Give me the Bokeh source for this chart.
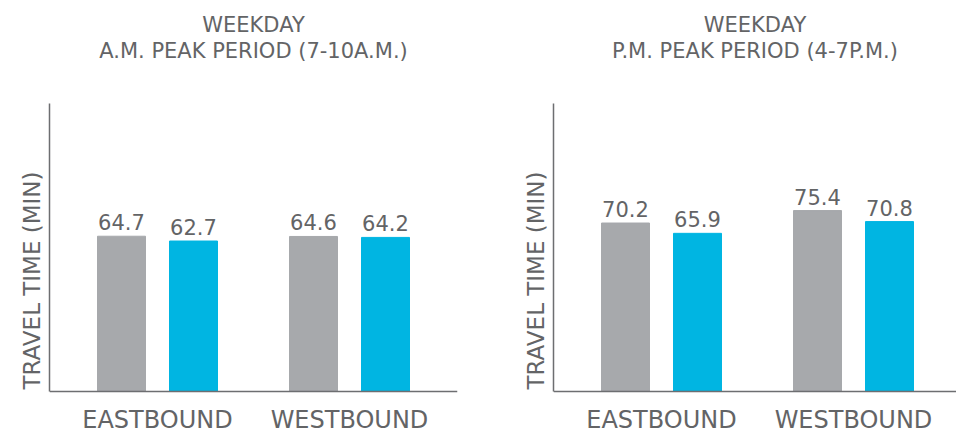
from bokeh.plotting import figure
from bokeh.models import Range1d, Title, ColumnDataSource, FixedTicker
from bokeh.layouts import row
from bokeh.transform import dodge
from bokeh.embed import file_html
from bokeh.resources import INLINE
from bokeh.core.properties import value

# ---- data ----
directions = ["EASTBOUND", "WESTBOUND"]
am_gray = [64.7, 64.6]
am_blue = [62.7, 64.2]
pm_gray = [70.2, 75.4]
pm_blue = [65.9, 70.8]
title_line1 = ["WEEKDAY", "WEEKDAY"]
title_line2 = ["A.M. PEAK PERIOD (7-10A.M.)", "P.M. PEAK PERIOD (4-7P.M.)"]
y_label = "TRAVEL TIME (MIN)"

FONT = "DejaVu Sans"
TXT = "#636466"
GRAY = "#a7a9ac"
BLUE = "#00b5e2"
AXIS = "#6d6e71"
Y_MAX = 120
Y_MIN = -Y_MAX * 43 / 288   # room below the baseline for the category labels


def make_panel(t1, t2, gray_vals, blue_vals, width, bl, br, x_end):
    src = ColumnDataSource(dict(
        x=list(range(len(directions))),
        gray=gray_vals, blue=blue_vals,
        gray_lbl=[f"{v:.1f}" for v in gray_vals],
        blue_lbl=[f"{v:.1f}" for v in blue_vals],
    ))
    p = figure(width=width, height=434, output_backend="svg", toolbar_location=None,
               x_range=Range1d(-0.5625, x_end), y_range=Range1d(Y_MIN, Y_MAX),
               min_border_left=bl, min_border_right=br, min_border_top=103,
               min_border_bottom=0, title=None)
    p.outline_line_color = None
    p.grid.grid_line_color = None
    p.background_fill_color = None
    p.border_fill_color = "white"

    p.vbar(x=dodge("x", -0.1875, range=p.x_range), top="gray", width=0.25,
           color=GRAY, source=src)
    p.vbar(x=dodge("x", 0.1875, range=p.x_range), top="blue", width=0.25,
           color=BLUE, source=src)
    for col, off in (("gray", -0.1875), ("blue", 0.1875)):
        p.text(x=dodge("x", off, range=p.x_range), y=col, text=col + "_lbl",
               source=src, text_align="center", text_baseline="bottom",
               y_offset=-6, text_font=value(FONT), text_font_size="21px",
               text_color=TXT)

    # axes
    p.yaxis.ticker = FixedTicker(ticks=[])
    p.yaxis.bounds = (0, Y_MAX)
    p.yaxis.major_tick_line_color = None
    p.yaxis.minor_tick_line_color = None
    p.yaxis.major_tick_out = 0
    p.yaxis.major_label_text_font_size = "0px"
    p.yaxis.axis_line_color = AXIS
    p.yaxis.axis_line_width = 1.5

    p.xaxis.fixed_location = 0
    p.xaxis.ticker = FixedTicker(ticks=list(range(len(directions))))
    p.xaxis.major_label_overrides = {i: d for i, d in enumerate(directions)}
    p.xaxis.major_tick_line_color = None
    p.xaxis.minor_tick_line_color = None
    p.xaxis.major_tick_out = 0
    p.xaxis.major_tick_in = 0
    p.xaxis.axis_line_color = AXIS
    p.xaxis.axis_line_width = 1.5
    p.xaxis.major_label_text_font = FONT
    p.xaxis.major_label_text_font_size = "24px"
    p.xaxis.major_label_text_color = TXT
    p.xaxis.major_label_standoff = 14

    # above-panels stack outward from the frame: spacer, title line 2, title line 1
    p.add_layout(Title(text=" ", text_font_size="1px", standoff=38), "above")
    p.add_layout(Title(text=t2, align="center", text_font=FONT, text_font_size="21px",
                       text_font_style="normal", text_color=TXT, standoff=0), "above")
    p.add_layout(Title(text=t1, align="center", text_font=FONT, text_font_size="21px",
                       text_font_style="normal", text_color=TXT, standoff=0), "above")

    p.add_layout(Title(text=y_label, align="left", text_font=FONT, text_font_size="23px",
                       text_font_style="normal", text_color=TXT, standoff=10,
                       offset=45), "left")
    return p


p1 = make_panel(title_line1[0], title_line2[0], am_gray, am_blue, 505, 49, 48, 1.5625)
p2 = make_panel(title_line1[1], title_line2[1], pm_gray, pm_blue, 451, 48, 0,
                -0.5625 + 403 / 192)

layout = row(p1, p2)
open("out.html", "w").write(file_html(layout, INLINE))
